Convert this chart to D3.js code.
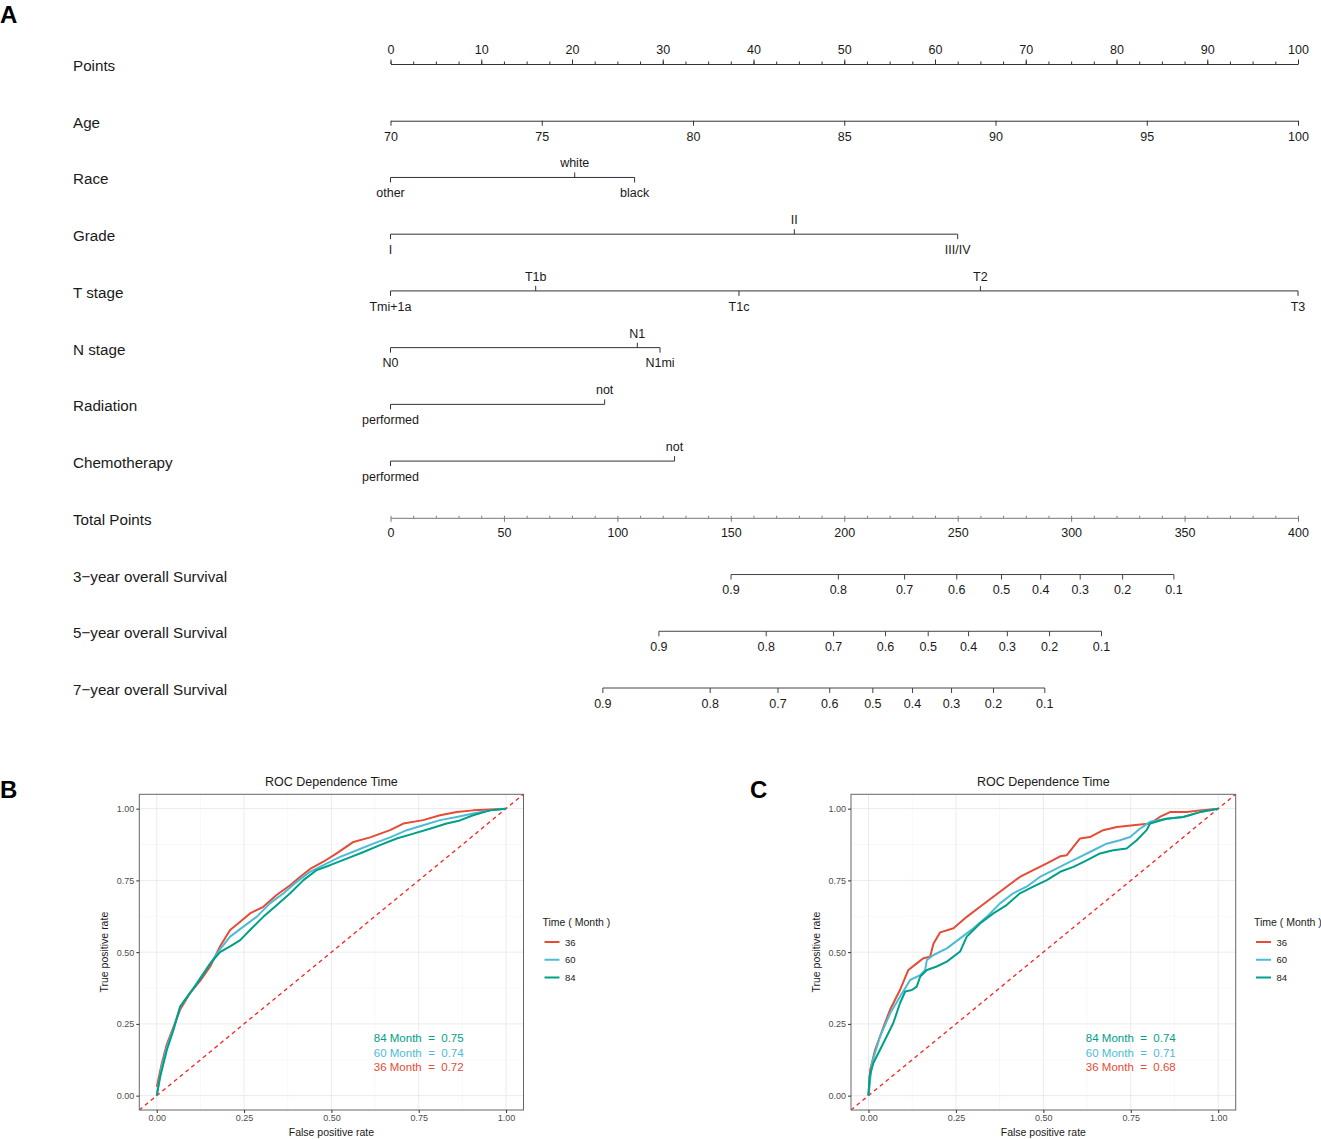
<!DOCTYPE html>
<html>
<head>
<meta charset="utf-8">
<script src="https://cdn.jsdelivr.net/npm/d3@7"></script>
<style>
  body { margin: 0; background: #fff; }
  text { font-family: "Liberation Sans", Arial, sans-serif; }
</style>
</head>
<body>
<div id="chart"></div>
<script>
// ---- nomogram data ----
const rowNames = ["Points", "Age", "Race", "Grade", "T stage", "N stage", "Radiation", "Chemotherapy",
  "Total Points", "3\u2212year overall Survival", "5\u2212year overall Survival", "7\u2212year overall Survival"];

const ageTicks = [70, 75, 80, 85, 90, 95, 100];

const raceLevels = ["other", "white", "black"];
const racePoints = [0, 20.3, 26.9];
const gradeLevels = ["I", "II", "III/IV"];
const gradePoints = [0, 44.5, 62.5];
const tLevels = ["Tmi+1a", "T1b", "T1c", "T2", "T3"];
const tPoints = [0, 16.0, 38.4, 65.0, 100];
const nLevels = ["N0", "N1", "N1mi"];
const nPoints = [0, 27.2, 29.7];
const radLevels = ["performed", "not"];
const radPoints = [0, 23.6];
const chemoLevels = ["performed", "not"];
const chemoPoints = [0, 31.3];

const survTicks = [0.9, 0.8, 0.7, 0.6, 0.5, 0.4, 0.3, 0.2, 0.1];
const surv3Points = [150.1, 197.4, 226.6, 249.6, 269.3, 286.6, 304.0, 322.7, 345.3];
const surv5Points = [118.3, 165.6, 195.3, 218.2, 237.0, 254.8, 271.9, 290.5, 313.4];
const surv7Points = [93.6, 140.9, 170.8, 193.6, 212.6, 230.1, 247.3, 265.8, 288.4];

// ---- ROC data: [false positive rate, true positive rate] ----
const rocB36 = [[0,0.03],[0.014,0.11],[0.029,0.18],[0.048,0.24],[0.067,0.30],[0.095,0.357],[0.124,0.40],
  [0.153,0.45],[0.181,0.52],[0.21,0.577],[0.239,0.606],[0.267,0.635],[0.305,0.658],[0.344,0.70],[0.382,0.733],
  [0.41,0.762],[0.439,0.79],[0.477,0.815],[0.515,0.844],[0.563,0.884],[0.611,0.90],[0.668,0.925],[0.706,0.948],
  [0.763,0.96],[0.811,0.977],[0.859,0.988],[0.906,0.994],[0.954,0.997],[1,1]];
const rocB60 = [[0,0.003],[0.014,0.10],[0.029,0.17],[0.048,0.235],[0.067,0.31],[0.095,0.357],[0.124,0.41],
  [0.153,0.46],[0.181,0.51],[0.21,0.554],[0.248,0.589],[0.286,0.623],[0.324,0.67],[0.363,0.705],[0.401,0.745],
  [0.439,0.78],[0.477,0.803],[0.525,0.832],[0.573,0.855],[0.62,0.878],[0.668,0.90],[0.716,0.925],[0.763,0.942],
  [0.811,0.96],[0.859,0.971],[0.906,0.983],[0.954,0.994],[1,1]];
const rocB84 = [[0,0],[0.01,0.067],[0.029,0.16],[0.048,0.23],[0.067,0.31],[0.095,0.357],[0.115,0.39],
  [0.153,0.46],[0.181,0.50],[0.21,0.52],[0.239,0.542],[0.267,0.577],[0.305,0.623],[0.344,0.664],[0.382,0.705],
  [0.42,0.751],[0.458,0.786],[0.496,0.803],[0.544,0.826],[0.592,0.849],[0.639,0.873],[0.687,0.896],[0.735,0.913],
  [0.782,0.93],[0.83,0.948],[0.868,0.959],[0.906,0.977],[0.954,0.994],[1,1]];

const rocC36 = [[0,0],[0.005,0.09],[0.019,0.16],[0.043,0.24],[0.062,0.30],[0.09,0.368],[0.114,0.438],
  [0.138,0.461],[0.157,0.479],[0.176,0.484],[0.186,0.53],[0.205,0.569],[0.243,0.583],[0.281,0.623],[0.319,0.658],
  [0.357,0.693],[0.395,0.728],[0.433,0.762],[0.471,0.786],[0.51,0.809],[0.548,0.834],[0.567,0.838],[0.605,0.896],
  [0.633,0.901],[0.671,0.925],[0.71,0.936],[0.757,0.942],[0.805,0.948],[0.833,0.971],[0.862,0.988],[0.91,0.988],
  [0.948,0.994],[1,1]];
const rocC60 = [[0,0],[0.01,0.114],[0.033,0.206],[0.062,0.287],[0.09,0.345],[0.119,0.403],[0.148,0.42],
  [0.162,0.438],[0.167,0.473],[0.186,0.49],[0.224,0.513],[0.262,0.548],[0.3,0.583],[0.338,0.623],[0.376,0.67],
  [0.414,0.705],[0.452,0.728],[0.49,0.762],[0.529,0.786],[0.567,0.809],[0.605,0.832],[0.643,0.855],[0.681,0.878],
  [0.719,0.89],[0.748,0.901],[0.776,0.93],[0.805,0.954],[0.852,0.965],[0.9,0.971],[0.948,0.988],[1,1]];
const rocC84 = [[0,0],[0.003,0.067],[0.014,0.114],[0.033,0.16],[0.052,0.206],[0.071,0.253],[0.09,0.322],
  [0.105,0.363],[0.124,0.368],[0.138,0.38],[0.148,0.415],[0.167,0.438],[0.195,0.45],[0.224,0.467],[0.262,0.502],
  [0.281,0.554],[0.319,0.60],[0.357,0.635],[0.395,0.664],[0.433,0.705],[0.471,0.728],[0.51,0.751],[0.548,0.78],
  [0.586,0.797],[0.624,0.82],[0.662,0.844],[0.7,0.855],[0.738,0.861],[0.767,0.89],[0.795,0.925],[0.805,0.948],
  [0.852,0.965],[0.9,0.971],[0.948,0.988],[1,1]];

const timeLabels = ["36", "60", "84"];
const aucB = [0.72, 0.74, 0.75];
const aucC = [0.68, 0.71, 0.74];
const timeColors = ["#E64B35", "#4DBBD5", "#00A087"];

// ---- layout ----
const W = 1321, H = 1139;
const svg = d3.select("#chart").append("svg")
  .attr("width", W)
  .attr("height", H);

const xPts = d3.scaleLinear().domain([0, 100]).range([390.5, 1298]);
const xTot = d3.scaleLinear().domain([0, 400]).range([390.5, 1298]);
const rowY = d3.scaleLinear().domain([0, rowNames.length - 1]).range([64, 688]);

svg.append("text").attr("x", 0).attr("y", 23)
  .style("font-size", "24px").style("font-weight", "bold").text("A");

const nomo = svg.append("g");

nomo.selectAll(".rowname")
  .data(rowNames)
  .enter()
  .append("text")
  .attr("class", "rowname")
  .attr("x", 73)
  .attr("y", (d, i) => rowY(i) + 7)
  .style("font-size", "15.2px")
  .style("fill", "#1a1a1a")
  .text(d => d);

function styleAxis(g, color, fontSize) {
  g.selectAll("path").attr("stroke", color);
  g.selectAll("line").attr("stroke", color);
  g.selectAll("text")
    .style("font-size", fontSize)
    .style("fill", "#1a1a1a")
    .style("font-family", "'Liberation Sans', Arial, sans-serif");
}

// Points axis
const gPts = nomo.append("g").attr("transform", `translate(0,${rowY(0)})`);
gPts.call(d3.axisTop(xPts).tickValues(d3.range(0, 100.1, 2.5)).tickSize(2.5).tickSizeOuter(0).tickFormat(""));
gPts.append("g").call(d3.axisTop(xPts).tickValues(d3.range(0, 101, 10)).tickSize(4.5).tickSizeOuter(0).tickPadding(6))
  .call(g => g.select(".domain").remove());
styleAxis(gPts, "#333", "12.5px");

// Age axis
const xAge = d3.scaleLinear().domain([70, 100]).range(xPts.range());
const gAge = nomo.append("g").attr("transform", `translate(0,${rowY(1)})`);
gAge.call(d3.axisBottom(xAge).tickValues(ageTicks).tickSize(5).tickSizeOuter(0).tickPadding(6));
styleAxis(gAge, "#333", "12.5px");

// categorical rows
const catRows = [
  [raceLevels, racePoints],
  [gradeLevels, gradePoints],
  [tLevels, tPoints],
  [nLevels, nPoints],
  [radLevels, radPoints],
  [chemoLevels, chemoPoints]
];

catRows.forEach(function(row, r) {
  const levels = row[0], pts = row[1];
  const y = rowY(r + 2);
  const order = d3.range(levels.length).sort((a, b) => pts[a] - pts[b]);
  const items = order.map((idx, k) => ({ name: levels[idx], p: pts[idx], up: k % 2 === 1 }));
  const g = nomo.append("g").attr("transform", `translate(0,${y})`);
  g.append("line")
    .attr("x1", xPts(d3.min(pts))).attr("x2", xPts(d3.max(pts)))
    .attr("y1", 0).attr("y2", 0)
    .attr("stroke", "#333");
  g.selectAll(".tk").data(items).enter().append("line")
    .attr("x1", d => xPts(d.p)).attr("x2", d => xPts(d.p))
    .attr("y1", 0).attr("y2", d => d.up ? -5 : 5)
    .attr("stroke", "#333");
  g.selectAll(".lb").data(items).enter().append("text")
    .attr("x", d => xPts(d.p))
    .attr("y", d => d.up ? -10 : 19.8)
    .attr("text-anchor", "middle")
    .style("font-size", "12.5px")
    .style("fill", "#1a1a1a")
    .text(d => d.name);
});

// Total points
const gTot = nomo.append("g").attr("transform", `translate(0,${rowY(8)})`);
gTot.call(d3.axisTop(xTot).tickValues(d3.range(0, 401, 10)).tickSize(2).tickSizeOuter(0).tickFormat(""));
gTot.append("g").call(d3.axisBottom(xTot).tickValues(d3.range(0, 401, 50)).tickSize(4).tickSizeOuter(0).tickPadding(6.5))
  .call(g => g.select(".domain").remove());
styleAxis(gTot, "#777", "12.5px");

// survival rows
[surv3Points, surv5Points, surv7Points].forEach(function(pts, r) {
  const g = nomo.append("g").attr("transform", `translate(0,${rowY(9 + r)})`);
  g.append("line")
    .attr("x1", xTot(d3.min(pts))).attr("x2", xTot(d3.max(pts)))
    .attr("y1", 0).attr("y2", 0)
    .attr("stroke", "#444");
  g.selectAll(".tk").data(pts).enter().append("line")
    .attr("x1", d => xTot(d)).attr("x2", d => xTot(d))
    .attr("y1", 0).attr("y2", 5)
    .attr("stroke", "#444");
  g.selectAll(".lb").data(pts).enter().append("text")
    .attr("x", d => xTot(d))
    .attr("y", 19.6)
    .attr("text-anchor", "middle")
    .style("font-size", "12.5px")
    .style("fill", "#1a1a1a")
    .text((d, i) => survTicks[i]);
});

// ---- ROC panels ----
function drawRoc(id, left, right, curves, aucs, legendX) {
  const top = 794.3, bottom = 1110;
  const x = d3.scaleLinear().domain([-0.05, 1.05]).range([left, right]);
  const y = d3.scaleLinear().domain([-0.05, 1.05]).range([bottom, top]);
  const g = svg.append("g");

  g.append("clipPath").attr("id", id).append("rect")
    .attr("x", left).attr("y", top).attr("width", right - left).attr("height", bottom - top);

  const major = [0, 0.25, 0.5, 0.75, 1];
  const minor = [0.125, 0.375, 0.625, 0.875];
  g.selectAll(".gminx").data(minor).enter().append("line")
    .attr("x1", d => x(d)).attr("x2", d => x(d)).attr("y1", top).attr("y2", bottom)
    .attr("stroke", "#f3f3f3").attr("stroke-width", 0.6);
  g.selectAll(".gminy").data(minor).enter().append("line")
    .attr("y1", d => y(d)).attr("y2", d => y(d)).attr("x1", left).attr("x2", right)
    .attr("stroke", "#f3f3f3").attr("stroke-width", 0.6);
  g.selectAll(".gmajx").data(major).enter().append("line")
    .attr("x1", d => x(d)).attr("x2", d => x(d)).attr("y1", top).attr("y2", bottom)
    .attr("stroke", "#ebebeb").attr("stroke-width", 1);
  g.selectAll(".gmajy").data(major).enter().append("line")
    .attr("y1", d => y(d)).attr("y2", d => y(d)).attr("x1", left).attr("x2", right)
    .attr("stroke", "#ebebeb").attr("stroke-width", 1);

  const plot = g.append("g").attr("clip-path", `url(#${id})`);
  plot.append("line")
    .attr("x1", x(-0.1)).attr("y1", y(-0.1)).attr("x2", x(1.1)).attr("y2", y(1.1))
    .attr("stroke", "#ff2020").attr("stroke-width", 1.3).attr("stroke-dasharray", "4,3.5");

  const line = d3.line().x(d => x(d[0])).y(d => y(d[1]));
  plot.selectAll(".roc").data(curves).enter().append("path")
    .attr("d", d => line(d))
    .attr("fill", "none")
    .attr("stroke", (d, i) => timeColors[i])
    .attr("stroke-width", 2)
    .attr("stroke-linejoin", "round");

  g.append("rect")
    .attr("x", left).attr("y", top).attr("width", right - left).attr("height", bottom - top)
    .attr("fill", "none").attr("stroke", "#666").attr("stroke-width", 1);

  const xAxis = g.append("g").attr("transform", `translate(0,${bottom})`)
    .call(d3.axisBottom(x).tickValues(major).tickFormat(d3.format(".2f")).tickSize(3).tickSizeOuter(0).tickPadding(2));
  const yAxis = g.append("g").attr("transform", `translate(${left},0)`)
    .call(d3.axisLeft(y).tickValues(major).tickFormat(d3.format(".2f")).tickSize(3).tickSizeOuter(0).tickPadding(2));
  [xAxis, yAxis].forEach(a => {
    a.select(".domain").remove();
    a.selectAll("line").attr("stroke", "#333");
    a.selectAll("text").style("font-size", "9px").style("fill", "#4d4d4d")
      .style("font-family", "'Liberation Sans', Arial, sans-serif");
  });

  g.append("text")
    .attr("x", (left + right) / 2).attr("y", 781.5)
    .attr("text-anchor", "middle").attr("dominant-baseline", "central")
    .style("font-size", "12.5px").style("fill", "#1a1a1a")
    .text("ROC Dependence Time");
  g.append("text")
    .attr("x", (left + right) / 2).attr("y", 1132)
    .attr("text-anchor", "middle").attr("dominant-baseline", "central")
    .style("font-size", "10.5px").style("fill", "#1a1a1a")
    .text("False positive rate");
  g.append("text")
    .attr("transform", `translate(${left - 35},${(top + bottom) / 2}) rotate(-90)`)
    .attr("text-anchor", "middle").attr("dominant-baseline", "central")
    .style("font-size", "10.5px").style("fill", "#1a1a1a")
    .text("True positive rate");

  // AUC annotations (84 on top)
  const aucY = [0.10, 0.15, 0.20];
  g.selectAll(".auc").data(aucs).enter().append("text")
    .attr("x", x(0.75))
    .attr("y", (d, i) => y(aucY[i]))
    .attr("text-anchor", "middle").attr("dominant-baseline", "central")
    .attr("xml:space", "preserve")
    .style("font-size", "11.5px")
    .style("fill", (d, i) => timeColors[i])
    .text((d, i) => `${timeLabels[i]} Month  =  ${d.toFixed(2)}`);

  // legend
  const lg = g.append("g").attr("transform", `translate(${legendX},0)`);
  lg.append("text").attr("x", 0).attr("y", 921.5)
    .attr("dominant-baseline", "central")
    .style("font-size", "10.5px").style("fill", "#1a1a1a")
    .text("Time ( Month )");
  const legY = d3.scaleLinear().domain([0, 2]).range([942, 977.5]);
  lg.selectAll(".lk").data(timeLabels).enter().append("line")
    .attr("x1", 2).attr("x2", 17)
    .attr("y1", (d, i) => legY(i)).attr("y2", (d, i) => legY(i))
    .attr("stroke", (d, i) => timeColors[i]).attr("stroke-width", 2);
  lg.selectAll(".lt").data(timeLabels).enter().append("text")
    .attr("x", 22.5).attr("y", (d, i) => legY(i))
    .attr("dominant-baseline", "central")
    .style("font-size", "9.5px").style("fill", "#1a1a1a")
    .text(d => d);
}

drawRoc("clipB", 139.3, 523.5, [rocB36, rocB60, rocB84], aucB, 542.5);
drawRoc("clipC", 851, 1235.7, [rocC36, rocC60, rocC84], aucC, 1254);

svg.append("text").attr("x", 0).attr("y", 798)
  .style("font-size", "24px").style("font-weight", "bold").text("B");
svg.append("text").attr("x", 750).attr("y", 798)
  .style("font-size", "24px").style("font-weight", "bold").text("C");
</script>
</body>
</html>
